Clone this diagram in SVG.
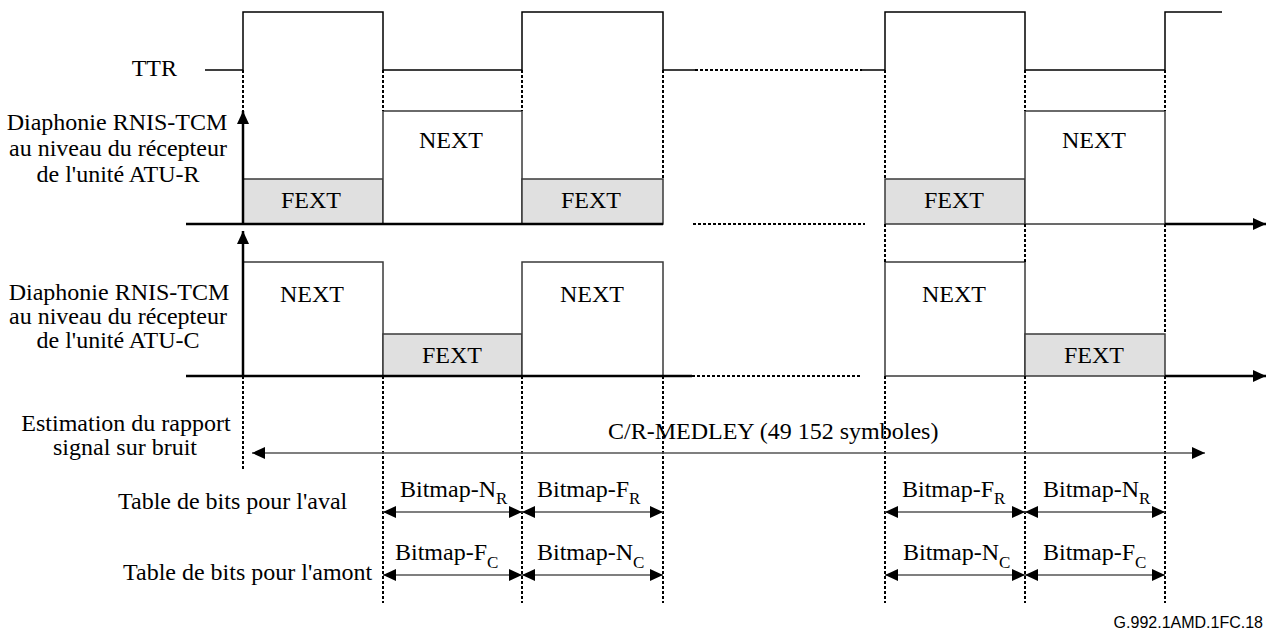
<svg xmlns="http://www.w3.org/2000/svg" width="1267" height="631" viewBox="0 0 1267 631">
<style>
text{font-family:"Liberation Serif","Times New Roman",serif;font-size:24px;fill:#000}
.c{text-anchor:middle}
.e{text-anchor:end}
.sub{font-size:17px}
.id{font-family:"Liberation Sans",Arial,sans-serif;font-size:16px;text-anchor:end}
.box{stroke:#3a3a3a;stroke-width:1.5}
.n{fill:#fff}
.f{fill:#e0e0e0}
.sig{fill:none;stroke:#000;stroke-width:1.5}
.ax{fill:none;stroke:#000;stroke-width:2.5}
.dot{fill:none;stroke:#000;stroke-width:2;stroke-dasharray:3 2}
.dv{fill:none;stroke:#000;stroke-width:2;stroke-dasharray:3 2}
.dim{fill:none;stroke:#555;stroke-width:1.5}
</style>
<defs>
<marker id="ah" viewBox="0 0 13 12" refX="13" refY="6" markerWidth="13" markerHeight="12" markerUnits="userSpaceOnUse" orient="auto-start-reverse">
<path d="M0,0 L13,6 L0,12 z" fill="#000"/>
</marker>
</defs>

<g id="ttr">
<text class="e" x="177" y="76">TTR</text>
<path class="sig" d="M205,70 H243 V12 H383 V70 H522 V12 H663 V70 H695"/>
<path class="dot" d="M695,70 H862"/>
<path class="sig" d="M862,70 H885 V12 H1025 V70 H1165 V12 H1222"/>
</g>

<g id="atu-r">
<text class="c" x="117" y="130">Diaphonie RNIS-TCM</text>
<text class="c" x="118" y="156">au niveau du récepteur</text>
<text class="c" x="118" y="182">de l'unité ATU-R</text>
<rect class="box f" x="243" y="179" width="140" height="45"/>
<rect class="box n" x="383" y="111" width="139" height="113"/>
<rect class="box f" x="522" y="179" width="141" height="45"/>
<rect class="box f" x="885" y="179" width="140" height="45"/>
<rect class="box n" x="1025" y="111" width="140" height="113"/>
<text class="c" x="311" y="208">FEXT</text>
<text class="c" x="451" y="148">NEXT</text>
<text class="c" x="591" y="208">FEXT</text>
<text class="c" x="954" y="208">FEXT</text>
<text class="c" x="1094" y="148">NEXT</text>
</g>

<g id="atu-c">
<text class="c" x="119" y="300">Diaphonie RNIS-TCM</text>
<text class="c" x="118" y="324">au niveau du récepteur</text>
<text class="c" x="118" y="348">de l'unité ATU-C</text>
<rect class="box n" x="243" y="262" width="140" height="114"/>
<rect class="box f" x="383" y="334" width="139" height="42"/>
<rect class="box n" x="522" y="262" width="141" height="114"/>
<rect class="box n" x="885" y="262" width="140" height="114"/>
<rect class="box f" x="1025" y="334" width="140" height="42"/>
<text class="c" x="312" y="302">NEXT</text>
<text class="c" x="452" y="363">FEXT</text>
<text class="c" x="592" y="302">NEXT</text>
<text class="c" x="954" y="302">NEXT</text>
<text class="c" x="1094" y="363">FEXT</text>
</g>

<g id="snr">
<text class="c" x="126" y="431">Estimation du rapport</text>
<text class="c" x="125" y="455">signal sur bruit</text>
<text x="608" y="439">C/R-MEDLEY (49 152 symboles)</text>
</g>

<g id="bitmaps">
<text x="118" y="509">Table de bits pour l'aval</text>
<text x="123" y="580">Table de bits pour l'amont</text>
<text x="400" y="497">Bitmap-N<tspan class="sub" dy="7">R</tspan></text>
<text x="537" y="497">Bitmap-F<tspan class="sub" dy="7">R</tspan></text>
<text x="902" y="497">Bitmap-F<tspan class="sub" dy="7">R</tspan></text>
<text x="1043" y="497">Bitmap-N<tspan class="sub" dy="7">R</tspan></text>
<text x="395" y="560">Bitmap-F<tspan class="sub" dy="8">C</tspan></text>
<text x="537" y="560">Bitmap-N<tspan class="sub" dy="8">C</tspan></text>
<text x="903" y="560">Bitmap-N<tspan class="sub" dy="8">C</tspan></text>
<text x="1043" y="560">Bitmap-F<tspan class="sub" dy="8">C</tspan></text>
</g>

<g id="connectors">
<!-- vertical dotted guides -->
<path class="dv" d="M243,70 V112 M383,70 V111 M522,70 V111 M663,70 V179 M885,70 V179 M1025,70 V111 M1165,70 V111"/>
<path class="dv" d="M885,224 V262 M1025,224 V262 M1165,224 V334"/>
<path class="dv" d="M243,376 V470 M383,376 V603 M522,376 V603 M663,376 V603 M885,376 V603 M1025,376 V603 M1165,376 V603"/>
<!-- axes -->
<path class="ax" d="M186,224 H663"/>
<path class="dot" d="M693,224 H865"/>
<path class="ax" d="M1165,224 H1266" marker-end="url(#ah)"/>
<path class="ax" d="M243,224 V111" marker-end="url(#ah)"/>
<path class="ax" d="M186,376 H692"/>
<path class="dot" d="M692,376 H860"/>
<path class="ax" d="M1165,376 H1266" marker-end="url(#ah)"/>
<path class="ax" d="M243,376 V231" marker-end="url(#ah)"/>
<!-- SNR arrow -->
<path class="dim" d="M252,453 H1205" marker-start="url(#ah)" marker-end="url(#ah)"/>
<!-- bitmap arrows -->
<path class="dim" d="M383,512 H522" marker-start="url(#ah)" marker-end="url(#ah)"/>
<path class="dim" d="M522,512 H663" marker-start="url(#ah)" marker-end="url(#ah)"/>
<path class="dim" d="M885,512 H1025" marker-start="url(#ah)" marker-end="url(#ah)"/>
<path class="dim" d="M1025,512 H1165" marker-start="url(#ah)" marker-end="url(#ah)"/>
<path class="dim" d="M383,575 H522" marker-start="url(#ah)" marker-end="url(#ah)"/>
<path class="dim" d="M522,575 H663" marker-start="url(#ah)" marker-end="url(#ah)"/>
<path class="dim" d="M885,575 H1025" marker-start="url(#ah)" marker-end="url(#ah)"/>
<path class="dim" d="M1025,575 H1165" marker-start="url(#ah)" marker-end="url(#ah)"/>
</g>

<text class="id" x="1263" y="628">G.992.1AMD.1FC.18</text>
</svg>
